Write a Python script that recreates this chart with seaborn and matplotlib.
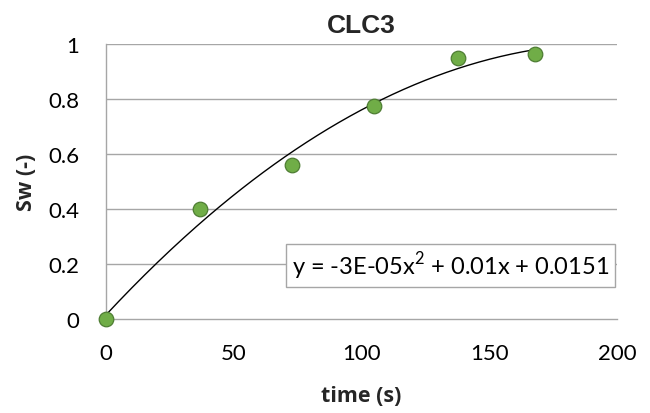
import numpy as np
import pandas as pd
import matplotlib
matplotlib.use("Agg")
import matplotlib.pyplot as plt
import seaborn as sns

# Measured saturation over time
time_s = [0, 37, 73, 105, 138, 168]
sw = [0.0, 0.40, 0.56, 0.775, 0.95, 0.965]
x_ticks = [0, 50, 100, 150, 200]
y_ticks = [0, 0.2, 0.4, 0.6, 0.8, 1.0]
y_tick_labels = ["0", "0.2", "0.4", "0.6", "0.8", "1"]
title = "CLC3"
equation = "y = -3E-05x$^{2}$ + 0.01x + 0.0151"

df = pd.DataFrame({"time (s)": time_s, "Sw (-)": sw})

sns.set_theme(style="white")
plt.rcParams["font.family"] = ["Lato", "DejaVu Sans"]
plt.rcParams["mathtext.fontset"] = "custom"
plt.rcParams["mathtext.rm"] = "Lato"

bold_font = ["Open Sans", "DejaVu Sans"]
title_font = ["Liberation Sans", "DejaVu Sans"]

fig = plt.figure(figsize=(6.5, 4.14), dpi=100)
ax = fig.add_axes([0.163, 0.227, 0.786, 0.664])

grid_c = "#a6a6a6"
for yv in y_ticks[1:]:
    ax.axhline(yv, color=grid_c, lw=1.0, zorder=0)

# Second-order polynomial trendline through the measurements
coef = np.polyfit(time_s, sw, 2)
xs = np.linspace(min(time_s), max(time_s), 200)
ax.plot(xs, np.polyval(coef, xs), color="black", lw=1.0, zorder=2)

sns.scatterplot(data=df, x="time (s)", y="Sw (-)", ax=ax, s=110,
                color="#70ad47", edgecolor="#4e7d33", linewidth=0.9, zorder=3)

ax.set_xlim(0, 200)
ax.set_ylim(0, 1)
ax.set_xticks(x_ticks)
ax.set_yticks(y_ticks)
ax.set_yticklabels(y_tick_labels)
ax.tick_params(axis="both", labelsize=16, colors="black", direction="out",
               length=6, width=1)
ax.tick_params(axis="x", color=grid_c, pad=11)
ax.tick_params(axis="y", color=grid_c, pad=13)

for side in ["top", "right"]:
    ax.spines[side].set_visible(False)
for side in ["left", "bottom"]:
    ax.spines[side].set_color(grid_c)
    ax.spines[side].set_linewidth(1.0)
for c in ax.collections:
    c.set_clip_on(False)

ax.set_xlabel("time (s)", fontsize=15.5, fontweight="bold", family=bold_font,
              labelpad=16)
ax.set_ylabel("Sw (-)", fontsize=15.5, fontweight="bold", family=bold_font,
              labelpad=8)
ax.set_title(title, fontsize=19, fontweight="bold", family=title_font, pad=9)

ax.text(0.985, 0.195, equation, transform=ax.transAxes, ha="right", va="center",
        fontsize=17, color="black", zorder=5,
        bbox=dict(boxstyle="square,pad=0.25", fc="white", ec=grid_c, lw=1.0))

fig.savefig("out.png", dpi=100)
